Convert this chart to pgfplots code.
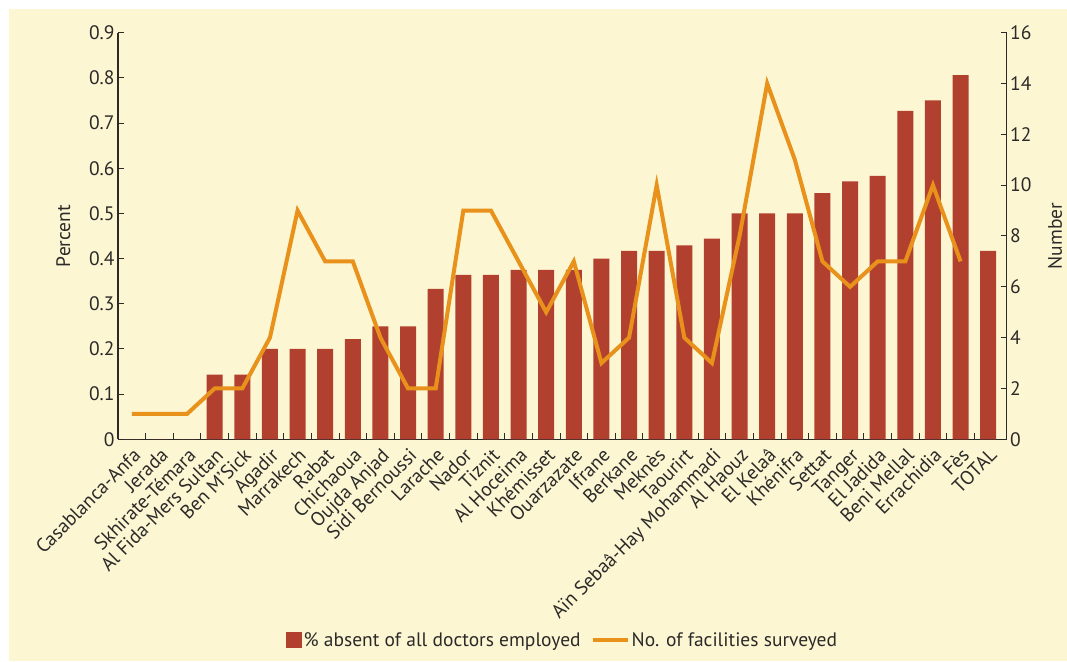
\documentclass[border=0pt]{standalone}
\usepackage{fontspec}
\setmainfont{PT Sans}
\usepackage{pgfplots}
\usepackage{pgfplotstable}
\pgfplotsset{compat=1.18}
\definecolor{bg}{HTML}{FDF6D3}
\definecolor{barred}{HTML}{B2402E}
\definecolor{lineor}{HTML}{E8921C}
\definecolor{txt}{HTML}{2B2A29}
\newcommand\f{\fontsize{19.5}{21}\selectfont}

\pgfplotstableread{
idx pct
0 0
1 0
2 0
3 0.143
4 0.143
5 0.2
6 0.2
7 0.2
8 0.222
9 0.25
10 0.25
11 0.333
12 0.364
13 0.364
14 0.375
15 0.375
16 0.375
17 0.4
18 0.417
19 0.417
20 0.429
21 0.444
22 0.5
23 0.5
24 0.5
25 0.545
26 0.571
27 0.583
28 0.727
29 0.75
30 0.806
31 0.417
}\pcttable

\pgfplotstableread{
idx num
0 1
1 1
2 1
3 2
4 2
5 4
6 9
7 7
8 7
9 4
10 2
11 2
12 9
13 9
14 7
15 5
16 7
17 3
18 4
19 10
20 4
21 3
22 8
23 14
24 11
25 7
26 6
27 7
28 7
29 10
30 7
}\numtable

\begin{document}
\begin{tikzpicture}
\fill[white] (0pt,0pt) rectangle (1067pt,661pt);
\fill[bg] (9pt,0pt) rectangle (1067pt,652pt);
\begin{axis}[
  at={(118pt,221.7pt)}, anchor=south west,
  scale only axis, width=888.7pt, height=406.6pt,
  xmin=-0.5, xmax=31.67, ymin=0, ymax=0.9,
  axis x line*=bottom, axis y line*=left,
  axis line style={txt, line width=1.1pt, -},
  tick align=inside,
  major tick length=6pt, minor tick length=6pt,
  tick style={txt, line width=1pt},
  ytick={0,0.1,0.2,0.3,0.4,0.5,0.6,0.7,0.8,0.9},
  yticklabel style={/pgf/number format/fixed, /pgf/number format/precision=1, font=\f, text=txt},
  /pgf/number format/assume math mode=true,
  xtick={0,...,31},
  minor x tick num=1,
  major x tick style={draw=none},
  xticklabels={Casablanca-Anfa, Jerada, Skhirate-Témara, Al Fida-Mers Sultan, Ben M’Sick, Agadir, Marrakech, Rabat, Chichaoua, Oujda Anjad, Sidi Bernoussi, Larache, Nador, Tiznit, Al Hoceima, Khémisset, Ouarzazate, Ifrane, Berkane, Meknès, Taourirt, Aïn Sebaâ-Hay Mohammadi, Al Haouz, El Kelaâ, Khénifra, Settat, Tanger, El Jadida, Beni Mellal, Errachidia, Fès, TOTAL},
  xticklabel style={yshift=-6pt, xshift=0pt, rotate=45, anchor=north east, font=\f, text=txt, inner sep=1pt},
  ylabel={Percent},
  ylabel style={at={(axis description cs:-0.0616,0.5)}, rotate=0, anchor=center, font=\f, text=txt},
  legend style={at={(axis description cs:0.5,-0.4936)}, anchor=center, draw=none, fill=none, font=\f, text=txt, legend columns=2, /tikz/every even column/.append style={column sep=8pt}},
  legend cell align=left,
]
\addplot[ybar, bar width=16pt, fill=barred, draw=none,
  legend image code/.code={\fill[barred] (0pt,-8pt) rectangle (16pt,8pt);}]
  table[x=idx, y=pct] {\pcttable};
\addlegendentry{\% absent of all doctors employed}
\addlegendimage{legend image code/.code={\draw[lineor, line width=4pt] (0pt,0pt) -- (35pt,0pt);}}
\addlegendentry{No. of facilities surveyed}
\end{axis}
\begin{axis}[
  at={(118pt,221.7pt)}, anchor=south west,
  scale only axis, width=888.7pt, height=406.6pt,
  xmin=-0.5, xmax=31.67, ymin=0, ymax=16,
  axis x line=none, axis y line*=right,
  axis line style={txt, line width=1.1pt, -},
  tick align=inside,
  major tick length=6pt,
  tick style={txt, line width=1pt},
  ytick={0,2,4,6,8,10,12,14,16},
  yticklabel style={font=\f, text=txt},
  /pgf/number format/assume math mode=true,
  ylabel={Number},
  ylabel style={at={(axis description cs:1.0544,0.5)}, rotate=0, anchor=center, font=\f, text=txt},
]
\addplot[lineor, line width=4pt, line join=miter, mark=none] table[x=idx, y=num] {\numtable};
\end{axis}
\end{tikzpicture}
\end{document}
